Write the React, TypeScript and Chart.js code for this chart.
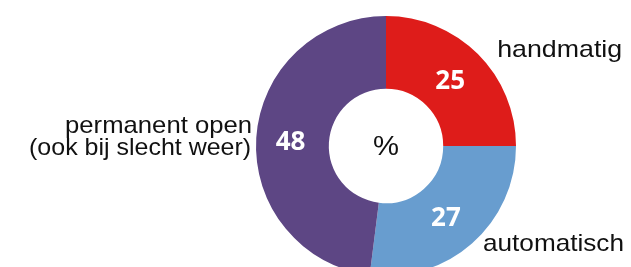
import React, { useEffect, useRef } from "react";
import { Chart, registerables } from "chart.js";

Chart.register(...registerables);

const categories = ["handmatig", "automatisch", "permanent open\n(ook bij slecht weer)"];
const values = [25, 27, 48];
const colors = ["#DE1C1A", "#689DCF", "#5D4684"];
const centerText = "%";

function stretchText(ctx: CanvasRenderingContext2D, text: string, x: number, y: number, width: number, align: "left" | "right") {
  const w = ctx.measureText(text).width;
  const sx = width / w;
  ctx.save();
  ctx.translate(x, y);
  ctx.scale(sx, 1);
  ctx.textAlign = align;
  ctx.fillText(text, 0, 0);
  ctx.restore();
}

const labelPlugin = {
  id: "labelPlugin",
  afterDatasetsDraw(chart: any) {
    const ctx = chart.ctx;
    const meta = chart.getDatasetMeta(0);
    const arcs = meta.data;
    if (!arcs.length) return;
    const first = arcs[0];
    const cx = first.x;
    const cy = first.y;
    const R = first.outerRadius;
    ctx.save();
    // value labels
    ctx.fillStyle = "#ffffff";
    ctx.font = "bold 26px 'Open Sans'";
    ctx.textAlign = "center";
    ctx.textBaseline = "middle";
    arcs.forEach((arc: any, i: number) => {
      const p = arc.tooltipPosition();
      ctx.fillText(String(values[i]), p.x - 2, p.y + 2);
    });
    // center text
    ctx.fillStyle = "#111111";
    ctx.textBaseline = "alphabetic";
    ctx.font = "27px 'Liberation Sans'";
    stretchText(ctx, centerText, cx - 13, cy + 9, 26, "left");
    // category labels
    ctx.font = "24px 'Liberation Sans'";
    stretchText(ctx, categories[0], cx + R * 0.855, cy - R * 0.686, 125, "left");
    stretchText(ctx, categories[1], cx + R * 0.746, cy + R * 0.805, 141, "left");
    const lines = categories[2].split("\n");
    stretchText(ctx, lines[0], cx - R * 1.038 + 1, cy - R * 0.103, 187, "right");
    stretchText(ctx, lines[1], cx - R * 1.038, cy + R * 0.071, 222, "right");
    ctx.restore();
  },
};

export default function App() {
  const ref = useRef<HTMLCanvasElement | null>(null);
  useEffect(() => {
    if (!ref.current) return;
    const chart = new Chart(ref.current, {
      type: "doughnut",
      data: {
        labels: categories,
        datasets: [
          {
            data: values,
            backgroundColor: colors,
            borderWidth: 0,
          },
        ],
      },
      options: {
        responsive: false,
        animation: false,
        devicePixelRatio: 1,
        cutout: "44%",
        layout: { padding: { left: 256, right: 115, top: 16, bottom: 16 } },
        plugins: {
          legend: { display: false },
          tooltip: { enabled: false },
        },
      },
      plugins: [labelPlugin],
    });
    return () => chart.destroy();
  }, []);
  return (
    <div
      style={{
        position: "fixed",
        left: 0,
        top: 0,
        width: 631,
        height: 267,
        overflow: "hidden",
        background: "#ffffff",
      }}
    >
      <canvas ref={ref} width={631} height={292} style={{ display: "block" }} />
    </div>
  );
}
